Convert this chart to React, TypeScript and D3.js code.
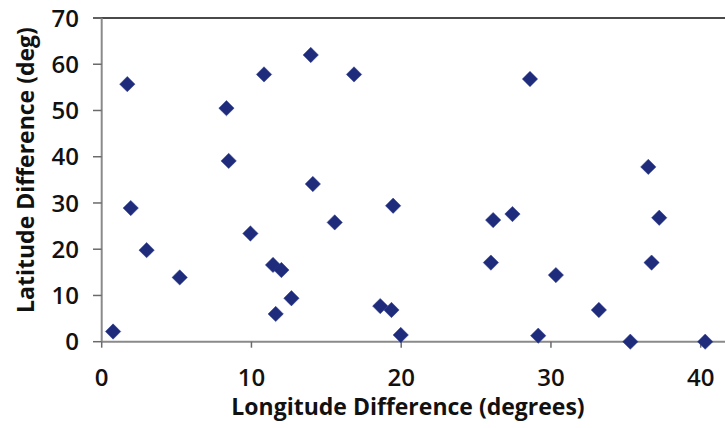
import React from "react";
import * as d3 from "d3";

const lonDiff = [0.76, 1.71, 1.94, 3.0, 5.21, 8.33, 8.48, 9.93, 10.84, 11.44, 12.0, 11.62, 12.67, 13.96, 14.1, 15.56, 16.85, 18.6, 19.35, 19.46, 19.97, 25.99, 26.14, 27.43, 28.6, 29.15, 30.33, 33.2, 35.3, 36.72, 36.5, 37.23, 40.3];
const latDiff = [2.2, 55.7, 28.9, 19.8, 13.9, 50.5, 39.1, 23.4, 57.8, 16.6, 15.5, 6.0, 9.4, 62.0, 34.1, 25.8, 57.8, 7.7, 6.86, 29.4, 1.45, 17.1, 26.3, 27.6, 56.8, 1.3, 14.4, 6.86, 0, 17.1, 37.8, 26.8, 0];
const xTicks = [0, 10, 20, 30, 40];
const yTicks = [0, 10, 20, 30, 40, 50, 60, 70];
const xTitle = "Longitude Difference (degrees)";
const yTitle = "Latitude Difference (deg)";

const W = 725;
const H = 428;
const left = 101.7;
const right = 725;
const top = 18;
const bottom = 341.7;

export default function App() {
  const x = d3.scaleLinear().domain([0, 40]).range([left, 700.7]);
  const y = d3.scaleLinear().domain([0, 70]).range([bottom, top]);
  const diamond = d3.symbol().type(d3.symbolDiamond2).size(150)();
  const font = "'Open Sans', Lato, sans-serif";
  return (
    <svg width={W} height={H} style={{ position: "absolute", left: 0, top: 0, background: "#fff" }}>
      <line x1={93} x2={right} y1={top} y2={top} stroke="#4a4a4a" strokeWidth={2} />
      <line x1={left} x2={left} y1={top} y2={bottom} stroke="#8a8a8a" strokeWidth={2} />
      <line x1={left} x2={right} y1={bottom} y2={bottom} stroke="#8a8a8a" strokeWidth={2} />
      {yTicks.map((t) => (
        <g key={"y" + t}>
          <line x1={93} x2={left} y1={y(t)} y2={y(t)} stroke="#6a6a6a" strokeWidth={1.5} />
          <text x={79} y={y(t)} dy="0.36em" textAnchor="end" fontFamily={font} fontWeight={600} fontSize={24} fill="#111">
            {t}
          </text>
        </g>
      ))}
      {xTicks.map((t) => (
        <g key={"x" + t}>
          <line x1={x(t)} x2={x(t)} y1={bottom} y2={bottom + 6} stroke="#6a6a6a" strokeWidth={1.5} />
          <text x={x(t)} y={385.5} textAnchor="middle" fontFamily={font} fontWeight={600} fontSize={24} fill="#111">
            {t}
          </text>
        </g>
      ))}
      {lonDiff.map((v, i) => (
        <path key={i} d={diamond} transform={`translate(${x(v)},${y(latDiff[i])})`} fill="#1f2c7c" stroke="#2a3a8a" strokeWidth={0.5} />
      ))}
      <text x={408} y={415} textAnchor="middle" fontFamily={font} fontWeight="bold" fontSize={23} fill="#111">
        {xTitle}
      </text>
      <text transform={`translate(34,170) rotate(-90)`} textAnchor="middle" fontFamily={font} fontWeight="bold" fontSize={23} fill="#111">
        {yTitle}
      </text>
    </svg>
  );
}
